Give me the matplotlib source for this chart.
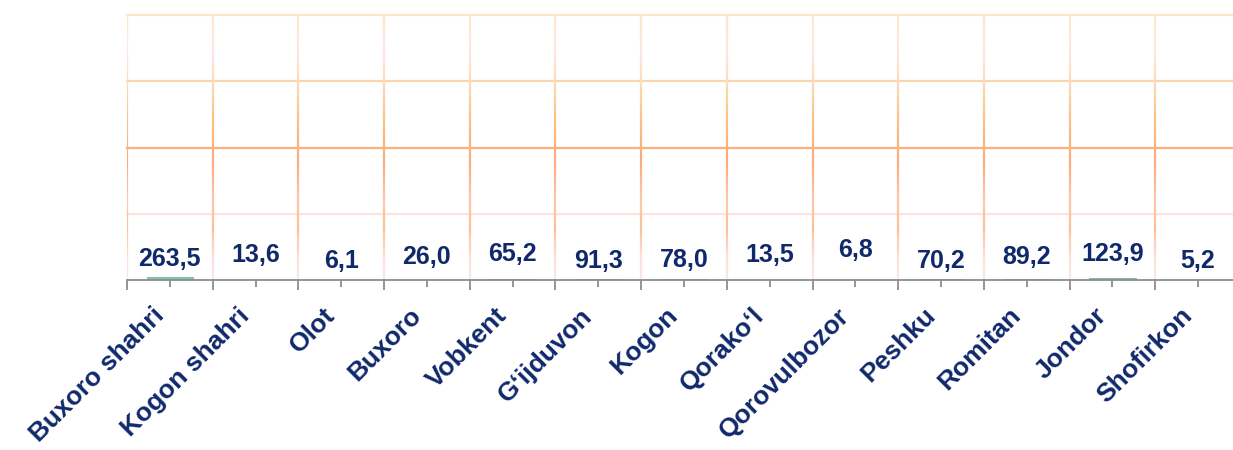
import numpy as np
import matplotlib
matplotlib.use("Agg")
import matplotlib.pyplot as plt
from matplotlib.collections import LineCollection
from matplotlib.colors import LinearSegmentedColormap
from matplotlib.ticker import MultipleLocator

plt.rcParams['font.family'] = ['Liberation Sans', 'DejaVu Sans']

# data
tumanlar = ["Buxoro shahri", "Kogon shahri", "Olot", "Buxoro", "Vobkent",
            "G\u2018ijduvon", "Kogon", "Qorako\u2018l", "Qorovulbozor", "Peshku",
            "Romitan", "Jondor", "Shofirkon"]
qiymatlar = [263.5, 13.6, 6.1, 26.0, 65.2, 91.3, 78.0, 13.5, 6.8, 70.2, 89.2, 123.9, 5.2]
yorliqlar = ["263,5", "13,6", "6,1", "26,0", "65,2", "91,3", "78,0",
             "13,5", "6,8", "70,2", "89,2", "123,9", "5,2"]

# label heights (axes fraction), as placed in the original
label_y = [0.079, 0.094, 0.072, 0.085, 0.098, 0.072, 0.075,
           0.094, 0.113, 0.072, 0.085, 0.098, 0.072]

NAVY = "#10296b"

fig = plt.figure(figsize=(12.33, 4.5), dpi=100)
# axes runs a bit past the right edge, like the original
ax = fig.add_axes([127 / 1233, 170 / 450, 1114 / 1233, 265 / 450])

x = np.arange(len(tumanlar))
ax.bar(x, qiymatlar, width=0.54, color="#86c9a8", edgecolor="#6fb894",
       linewidth=0.6, zorder=3)

ax.set_xlim(-0.5, len(tumanlar) - 0.5)
ax.set_ylim(0, 20000)

# horizontal grid lines, each with its own tint
grid_cols = {5000: "#fde2e2", 10000: "#fbb07c", 15000: "#fbd6ac", 20000: "#fde6c8"}
for yv, c in grid_cols.items():
    ax.axhline(yv, color=c, lw=1.6, zorder=1, clip_on=False)

# vertical grid lines with a vertical gradient
cmap = LinearSegmentedColormap.from_list("grad", [
    (0.00, "#fde6dc"),
    (0.08, "#fde0e0"),
    (0.20, "#fcc090"),
    (0.30, "#fdc8b0"),
    (0.45, "#fbaa78"),
    (0.60, "#fcc087"),
    (0.75, "#fddcb8"),
    (0.87, "#fde6ea"),
    (1.00, "#fde8c8"),
])
ys = np.linspace(0, 20000, 120)
for xb in np.arange(-0.5, len(tumanlar), 1.0):
    pts = np.column_stack([np.full_like(ys, xb), ys])
    segs = np.stack([pts[:-1], pts[1:]], axis=1)
    lc = LineCollection(segs, colors=cmap((ys[:-1] + ys[1:]) / 2 / 20000),
                        linewidths=1.6, zorder=1)
    ax.add_collection(lc)

for s in ["top", "right", "left"]:
    ax.spines[s].set_visible(False)
ax.spines["bottom"].set_color("#8c8c8c")
ax.spines["bottom"].set_linewidth(1.3)
ax.spines["bottom"].set_zorder(4)

ax.set_yticks([])
ax.xaxis.set_major_locator(MultipleLocator(1.0, offset=0.5))
ax.set_xticks(x, minor=True)
ax.tick_params(axis="x", which="major", length=7, width=1.3, color="#8c8c8c",
               labelbottom=False)
ax.tick_params(axis="x", which="minor", length=5, width=1.3, color="#8c8c8c",
               labelbottom=False)

# category names, slanted, hanging left of each centre tick
for i, name in enumerate(tumanlar):
    ax.annotate(name, xy=(i, 0), xycoords=ax.get_xaxis_transform(),
                xytext=(-7, -23), textcoords="offset points",
                rotation=45, rotation_mode="anchor", ha="right", va="center",
                fontsize=19, fontweight="bold", color=NAVY,
                annotation_clip=False)

for i, (lab, yl) in enumerate(zip(yorliqlar, label_y)):
    ax.text(i, yl, lab, transform=ax.get_xaxis_transform(), ha="center",
            va="center", fontsize=18, fontweight="bold", color=NAVY, zorder=5)

fig.savefig("out.png", dpi=100)
